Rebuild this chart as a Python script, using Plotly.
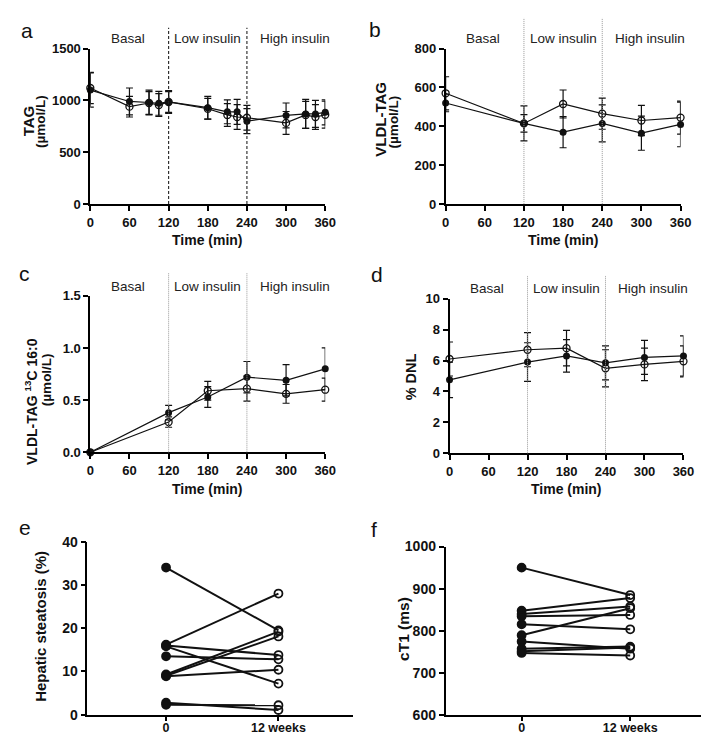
import plotly.graph_objects as go

W, H = 709, 736

# ---------------- data ----------------
# Panel a: TAG (umol/L)
time_a = [0, 60, 90, 105, 120, 180, 210, 225, 240, 300, 330, 345, 360]
tag_filled = [1100, 990, 980, 972, 985, 930, 890, 890, 800, 855, 870, 870, 885]
tag_filled_err = [165, 130, 120, 115, 110, 110, 115, 120, 120, 120, 140, 130, 120]
tag_open = [1120, 940, 975, 955, 985, 920, 860, 840, 833, 783, 860, 840, 862]
tag_open_err = [150, 100, 110, 110, 100, 100, 110, 120, 120, 110, 130, 120, 130]

# Panel b: VLDL-TAG (umol/L)
time_b = [0, 120, 180, 240, 300, 360]
vldl_filled = [520, 415, 370, 415, 365, 410]
vldl_filled_err = [45, 90, 80, 95, 88, 115]
vldl_open = [570, 415, 515, 465, 430, 445]
vldl_open_err = [85, 45, 72, 80, 78, 85]

# Panel c: VLDL-TAG 13C 16:0 (umol/L)
time_c = [0, 120, 180, 240, 300, 360]
c13_filled = [0.0, 0.38, 0.53, 0.72, 0.69, 0.80]
c13_filled_err = [0.0, 0.07, 0.10, 0.15, 0.15, 0.20]
c13_open = [0.0, 0.29, 0.59, 0.61, 0.56, 0.60]
c13_open_err = [0.0, 0.05, 0.09, 0.12, 0.09, 0.11]

# Panel d: % DNL
time_d = [0, 120, 180, 240, 300, 360]
dnl_filled = [4.75, 5.9, 6.3, 5.85, 6.2, 6.3]
dnl_filled_err = [1.15, 1.25, 1.05, 1.1, 1.1, 1.3]
dnl_open = [6.1, 6.7, 6.8, 5.5, 5.75, 5.95]
dnl_open_err = [1.1, 1.1, 1.15, 1.2, 1.05, 1.0]

# Panel e: hepatic steatosis (%) per subject, baseline -> 12 weeks
steatosis_0 = [34.0, 16.2, 16.0, 15.8, 13.5, 9.3, 9.0, 8.9, 2.8, 2.3]
steatosis_12 = [19.5, 28.0, 13.8, 7.2, 12.8, 19.2, 18.1, 10.4, 1.1, 2.2]

# Panel f: cT1 (ms) per subject
ct1_0 = [950, 848, 840, 835, 816, 790, 775, 758, 752, 748]
ct1_12 = [885, 878, 858, 838, 804, 854, 758, 763, 761, 742]

visit_labels = ["0", "12 weeks"]
time_ticks = [0, 60, 120, 180, 240, 300, 360]
phase_labels = ["Basal", "Low insulin", "High insulin"]
phase_x = [58, 180, 313]

# ---------------- helpers ----------------
def px(x):
    return x / W

def py(y):
    return 1 - y / H

FONT = "Arial, Liberation Sans, sans-serif"
fig = go.Figure()

def axis_common(**kw):
    d = dict(showline=True, linecolor="black", linewidth=1.7, ticks="outside",
             ticklen=5, tickwidth=1.5, tickcolor="black", showgrid=False,
             zeroline=False, mirror=False,
             tickfont=dict(family=FONT, size=13, color="#111", weight="bold"))
    d.update(kw)
    return d

panels = {
    # name: (xpix0, xpix1, ypix_top, ypix_bottom)
    "a": (80, 320, 33.3, 192.3),
    "b": (443, 683, 33.3, 192.3),
    "c": (80, 320, 286, 446),
    "d": (447, 686, 289, 447),
    "e": (77, 348, 537.3, 714.3),
    "f": (443, 707, 542.3, 715),
}

layout = dict(width=W, height=H, margin=dict(l=0, r=0, t=0, b=0),
              paper_bgcolor="white", plot_bgcolor="white", showlegend=False)

yranges = {"a": [0, 1500], "b": [0, 800], "c": [0, 1.5], "d": [0, 10], "e": [0, 40], "f": [600, 1000]}
ydticks = {"a": 500, "b": 200, "c": 0.5, "d": 2, "e": 10, "f": 100}
yfmt = {"a": "", "b": "", "c": ".1f", "d": "", "e": "", "f": ""}

for i, (name, (x0, x1, yt, yb)) in enumerate(panels.items()):
    n = "" if i == 0 else str(i + 1)
    xa = "xaxis" + n
    ya = "yaxis" + n
    if name in "abcd":
        xkw = axis_common(domain=[px(x0), px(x1)], range=[0, 360], tickvals=time_ticks,
                          anchor="y" + n)
        ytf = dict(family=FONT, size=13, color="#111", weight="bold")
    else:
        lo = -0.7
        hi = 1.66 if name == "e" else 1.68
        xkw = axis_common(domain=[px(x0), px(x1)], range=[lo, hi], tickvals=[0, 1],
                          ticktext=visit_labels, anchor="y" + n, ticklen=4,
                          ticklabelstandoff=-4,
                          tickfont=dict(family=FONT, size=12.5, color="#111", weight="bold"))
        ytf = dict(family=FONT, size=14, color="#111", weight="bold")
    ykw = axis_common(domain=[py(yb), py(yt)], range=yranges[name], dtick=ydticks[name],
                      tick0=yranges[name][0], tickformat=yfmt[name], anchor="x" + n,
                      tickfont=ytf)
    layout[xa] = xkw
    layout[ya] = ykw

fig.update_layout(**layout)

def add_pair(n, t, yf, ef, yo, eo):
    xr = "x" + n
    yr = "y" + n
    fig.add_trace(go.Scatter(x=t, y=yo, xaxis=xr, yaxis=yr, mode="lines+markers",
                             line=dict(color="#111", width=1.2),
                             marker=dict(symbol="circle-open", size=7, color="#111",
                                         line=dict(width=1.3, color="#111")),
                             error_y=dict(type="data", array=eo, color="#111",
                                          thickness=1.2, width=3.5),
                             cliponaxis=False))
    fig.add_trace(go.Scatter(x=t, y=yf, xaxis=xr, yaxis=yr, mode="lines+markers",
                             line=dict(color="#111", width=1.2),
                             marker=dict(symbol="circle", size=7, color="#111"),
                             error_y=dict(type="data", array=ef, color="#111",
                                          thickness=1.2, width=3.5),
                             cliponaxis=False))

add_pair("", time_a, tag_filled, tag_filled_err, tag_open, tag_open_err)
add_pair("2", time_b, vldl_filled, vldl_filled_err, vldl_open, vldl_open_err)
add_pair("3", time_c, c13_filled, c13_filled_err, c13_open, c13_open_err)
add_pair("4", time_d, dnl_filled, dnl_filled_err, dnl_open, dnl_open_err)

def add_subjects(n, base, after):
    for b, a in zip(base, after):
        fig.add_trace(go.Scatter(x=[0, 1], y=[b, a], xaxis="x" + n, yaxis="y" + n,
                                 mode="lines+markers",
                                 line=dict(color="#111", width=2),
                                 marker=dict(symbol=["circle", "circle-open"], size=8,
                                             color="#111", line=dict(width=1.8, color="#111")),
                                 cliponaxis=False))

add_subjects("5", steatosis_0, steatosis_12)
add_subjects("6", ct1_0, ct1_12)

# vertical phase lines
shapes = []
vl = {
    "": (12, 192.3, "#222", "3px,2px", 1.1),
    "2": (2, 192.3, "#999", "1px,1px", 1),
    "3": (263, 446, "#999", "1px,1px", 1),
    "4": (265, 447, "#999", "1px,1px", 1),
}
for n, (top, bot, col, dash, wd) in vl.items():
    for xv in (120, 240):
        shapes.append(dict(type="line", xref="x" + n, yref="paper", x0=xv, x1=xv,
                           y0=py(bot), y1=py(top),
                           line=dict(color=col, dash=dash, width=wd)))
fig.update_layout(shapes=shapes)

ann = []
phase_y = {"": 22.5, "2": 23, "3": 276, "4": 279}
for n, yy in phase_y.items():
    for lab, xv in zip(phase_labels, phase_x):
        ann.append(dict(text=lab, x=xv, xref="x" + n, y=py(yy), yref="paper",
                        showarrow=False, xanchor="center", yanchor="middle",
                        font=dict(family=FONT, size=13.5, color="#222")))

# panel letters
for lab, (xx, yy) in {"a": (15, 15), "b": (371, 14), "c": (13, 263), "d": (373, 264),
                     "e": (13, 523), "f": (370, 525)}.items():
    ann.append(dict(text=lab, x=px(xx), y=py(yy), xref="paper", yref="paper",
                    showarrow=False, xanchor="center", yanchor="middle",
                    font=dict(family=FONT, size=21, color="#111")))

# x-axis titles
for xx, yy in [(200, 229), (563, 229), (200, 483), (566, 483)]:
    ann.append(dict(text="<b>Time (min)</b>", x=px(xx), y=py(yy), xref="paper", yref="paper",
                    showarrow=False, xanchor="center", yanchor="middle",
                    font=dict(family=FONT, size=14, color="#111")))

# y-axis titles (rotated)
ytitles = [
    ("<b>TAG</b>", 17, 107, 15),
    ("<b>(µmol/L)</b>", 29, 108, 13.5),
    ("<b>VLDL-TAG</b>", 377, 106, 15),
    ("<b>(µmol/L)</b>", 390, 108, 13.5),
    ("<b>VLDL-TAG <sup>13</sup>C 16:0</b>", 20, 394, 14),
    ("<b>(µmol/L)</b>", 36, 372, 13.5),
    ("<b>% DNL</b>", 408, 369, 14.5),
    ("<b>Hepatic steatosis (%)</b>", 29, 624, 15),
    ("<b>cT1 (ms)</b>", 400, 627, 15.5),
]
for txt, xx, yy, fs in ytitles:
    ann.append(dict(text=txt, x=px(xx), y=py(yy), xref="paper", yref="paper",
                    showarrow=False, xanchor="center", yanchor="middle", textangle=-90,
                    font=dict(family=FONT, size=fs, color="#111")))

fig.update_layout(annotations=ann)

fig.write_html("out.html")
